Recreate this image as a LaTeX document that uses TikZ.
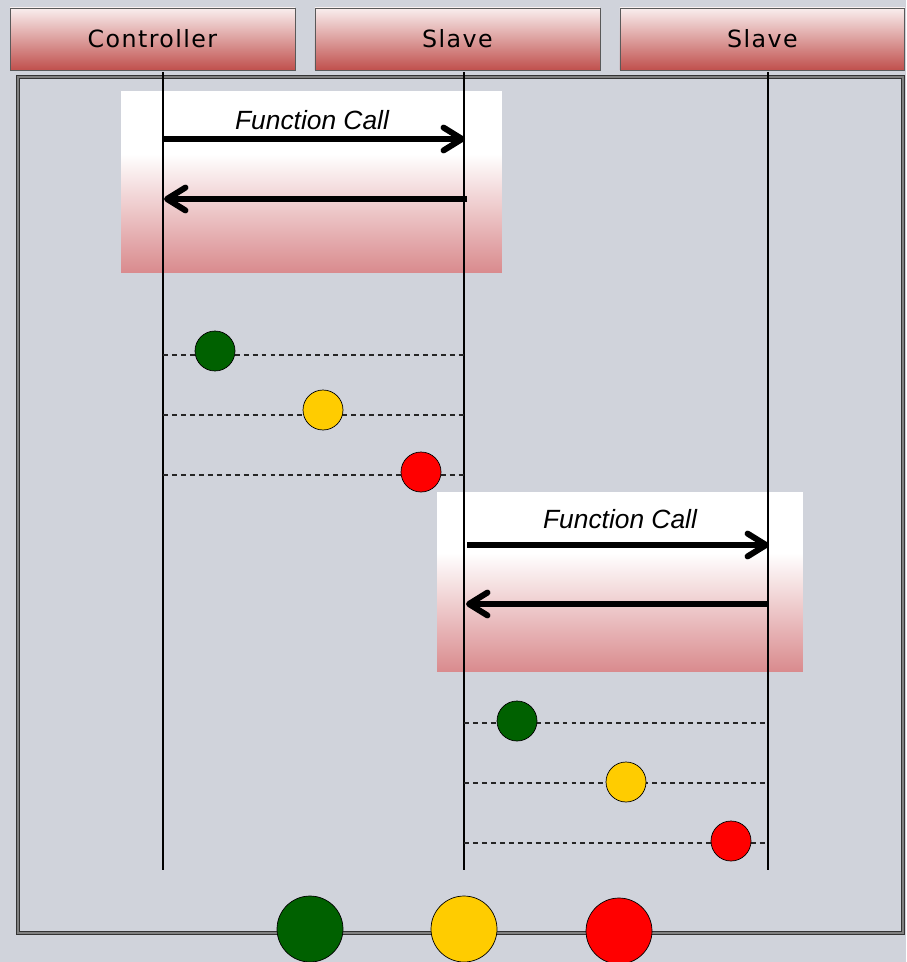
\documentclass[tikz,border=0pt]{standalone}
\usepackage{fontspec}
\setmainfont{Liberation Sans}
\newfontfamily\headfont[LetterSpace=6]{DejaVu Sans}
\usetikzlibrary{arrows.meta,positioning,shapes}
\definecolor{bgrey}{HTML}{D0D3DB}
\definecolor{hdtop}{HTML}{F9EEEE}
\definecolor{hdbot}{HTML}{C0504D}
\definecolor{callbot}{HTML}{D98A8D}
\definecolor{okgreen}{HTML}{006100}
\definecolor{waityellow}{HTML}{FFCC00}
\definecolor{errred}{HTML}{FF0000}
\pgfdeclareverticalshading{callshade}{100bp}{color(0bp)=(callbot); color(25bp)=(callbot); color(58bp)=(white); color(75bp)=(white); color(100bp)=(white)}

\begin{document}
\begin{tikzpicture}[x=0.02cm,y=-0.02cm,
            header/.style={draw=black!65,line width=0.4pt,top color=hdtop,bottom color=hdbot,
              minimum width=5.7cm,minimum height=1.24cm,outer sep=0,font=\headfont\fontsize{13.5}{15}\selectfont},
            callbox/.style={shading=callshade,anchor=north west,outer sep=0},
            frame/.style={draw=black!80,line width=0.7pt,double=black!50,double distance=1.1pt},
            life/.style={draw=black,line width=0.85pt},
            call/.style={draw=black,line width=3.4pt,-{Straight Barb[length=10.5pt,width=13pt,round]}},
            fcall/.style={font=\itshape\fontsize{15}{17}\selectfont},
            reply/.style={draw=black!85,line width=0.6pt,dash pattern=on 2.8pt off 2.3pt},
            lamp/.style={circle,draw=black,line width=0.4pt,inner sep=0,minimum size=0.8cm},
            biglamp/.style={lamp,minimum size=1.32cm}
          ]
          %background
          \path[use as bounding box,fill=bgrey] (0,0) rectangle (906,962);

          %headers
          \node[header,anchor=north west] (ctrl) at (10,8) {Controller};
          \node[header,right=0.4cm of ctrl] (slaveA) {Slave};
          \node[header,right=0.4cm of slaveA] (slaveB) {Slave};

          %frame
          \draw[frame] (18,77) rectangle (903,933);

          %function call boxes
          \node[callbox,minimum width=7.62cm,minimum height=3.62cm] (box1) at (121,92) {};
          \node[callbox,minimum width=7.32cm,minimum height=3.6cm] (box2) at (437,492) {};

          %lifelines
          \coordinate (ctrlTop) at (163,72);
          \coordinate (ctrlBot) at (163,870);
          \coordinate (slaveATop) at (464,72);
          \coordinate (slaveABot) at (464,870);
          \coordinate (slaveBTop) at (768,72);
          \coordinate (slaveBBot) at (768,870);
          \draw[life] (ctrlTop) -- (ctrlBot);
          \draw[life] (slaveATop) -- (slaveABot);
          \draw[life] (slaveBTop) -- (slaveBBot);

          %calls
          \node[fcall] (lbl1) at (312,120) {Function Call};
          \node[fcall] (lbl2) at (620,519) {Function Call};
          \coordinate (c1s) at (163,139);
          \coordinate (c1e) at (465,139);
          \coordinate (r1s) at (467,199);
          \coordinate (r1e) at (164,199);
          \coordinate (c2s) at (467,545);
          \coordinate (c2e) at (769,545);
          \coordinate (r2s) at (768,604);
          \coordinate (r2e) at (466,604);
          \draw[call] (c1s) -- (c1e);
          \draw[call] (r1s) -- (r1e);
          \draw[call] (c2s) -- (c2e);
          \draw[call] (r2s) -- (r2e);

          %replies controller - slave
          \coordinate (d1a) at (163,355);
          \coordinate (d1b) at (467,355);
          \coordinate (d2a) at (163,415);
          \coordinate (d2b) at (467,415);
          \coordinate (d3a) at (163,475);
          \coordinate (d3b) at (467,475);
          \draw[reply] (d1a) -- (d1b);
          \draw[reply] (d2a) -- (d2b);
          \draw[reply] (d3a) -- (d3b);
          \node[lamp,fill=okgreen] (g1) at (215,351) {};
          \node[lamp,fill=waityellow] (y1) at (323,410) {};
          \node[lamp,fill=errred] (r1) at (421,472) {};

          %replies slave - slave
          \coordinate (d4a) at (464,723);
          \coordinate (d4b) at (768,723);
          \coordinate (d5a) at (464,783);
          \coordinate (d5b) at (768,783);
          \coordinate (d6a) at (464,843);
          \coordinate (d6b) at (768,843);
          \draw[reply] (d4a) -- (d4b);
          \draw[reply] (d5a) -- (d5b);
          \draw[reply] (d6a) -- (d6b);
          \node[lamp,fill=okgreen] (g2) at (517,721) {};
          \node[lamp,fill=waityellow] (y2) at (626,782) {};
          \node[lamp,fill=errred] (r2) at (731,841) {};

          %legend
          \node[biglamp,fill=okgreen] (gBig) at (310,929) {};
          \node[biglamp,fill=waityellow] (yBig) at (464,929) {};
          \node[biglamp,fill=errred] (rBig) at (619,931) {};
      \end{tikzpicture}
\end{document}
